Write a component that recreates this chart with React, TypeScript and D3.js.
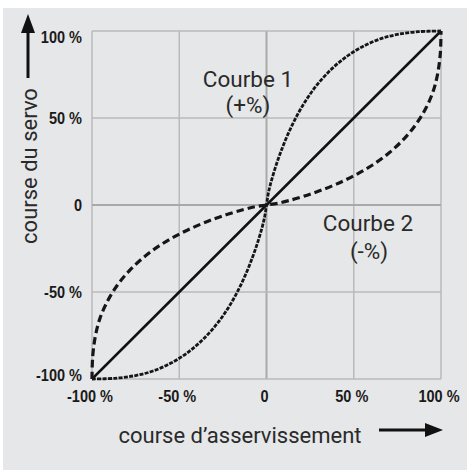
import React from "react";
import * as d3 from "d3";

const W = 467;
const H = 470;

const ticks = [-100, -50, 0, 50, 100];
const xTickLabels = ["-100 %", "-50 %", "0", "50 %", "100 %"];
const yTickLabels = ["-100 %", "-50 %", "0", "50 %", "100 %"];

const linearX = [-100, 100];
const linearY = [-100, 100];

// Courbe 1 (+%)
const curve1X = [-100, -87, -75, -65, -55, -46, -38, -30, -23, -17, -12, -8, -5, -2.5, -1, 0, 1, 2.5, 5, 8, 12, 17, 23, 30, 38, 46, 55, 65, 75, 87, 100];
const curve1Y = [-100, -99.6, -98, -95.4, -91, -85.4, -78.8, -70.3, -60.8, -50.5, -40, -30, -21.3, -12.8, -6.5, 0, 6.5, 12.8, 21.3, 30, 40, 50.5, 60.8, 70.3, 78.8, 85.4, 91, 95.4, 98, 99.6, 100];

// Courbe 2 (-%)
const curve2X = [-100, -99.6, -98, -95.4, -91, -85.4, -78.8, -70.3, -60.8, -50.5, -40, -30, -21.3, -12.8, -6.5, 0, 6.5, 12.8, 21.3, 30, 40, 50.5, 60.8, 70.3, 78.8, 85.4, 91, 95.4, 98, 99.6, 100];
const curve2Y = [-100, -87, -75, -65, -55, -46, -38, -30, -23, -17, -12, -8, -5, -2.5, -1, 0, 1, 2.5, 5, 8, 12, 17, 23, 30, 38, 46, 55, 65, 75, 87, 100];

const curve1Label = ["Courbe 1", "(+%)"];
const curve2Label = ["Courbe 2", "(-%)"];
const xTitle = "course d\u2019asservissement";
const yTitle = "course du servo";

export default function App() {
  const x = d3.scaleLinear().domain([-100, 100]).range([92, 441]);
  const y = d3.scaleLinear().domain([-100, 100]).range([379, 31]);

  const line = d3
    .line<[number, number]>()
    .x((d) => x(d[0]))
    .y((d) => y(d[1]))
    .curve(d3.curveCatmullRom.alpha(0.5));

  const straight = d3
    .line<[number, number]>()
    .x((d) => x(d[0]))
    .y((d) => y(d[1]));

  const c1 = curve1X.map((v, i) => [v, curve1Y[i]] as [number, number]);
  const c2 = curve2X.map((v, i) => [v, curve2Y[i]] as [number, number]);
  const lin = linearX.map((v, i) => [v, linearY[i]] as [number, number]);

  const tickFont = "'Liberation Sans', Arial, sans-serif";
  const textFont = "Roboto, 'Noto Sans', sans-serif";
  const sx = 0.88;

  return (
    <svg
      width={W}
      height={H}
      style={{ position: "absolute", left: 0, top: 0, display: "block" }}
    >
      <rect x={0} y={0} width={W} height={H} fill="#ffffff" />
      <rect x={3} y={8} width={W - 3} height={H - 8} fill="#e6e7e8" />

      {/* grid */}
      {ticks.map((t) => (
        <line
          key={"gx" + t}
          x1={x(t)}
          x2={x(t)}
          y1={y(-100)}
          y2={y(100)}
          stroke={t === 0 ? "#a9a9a9" : "#bababa"}
          strokeWidth={t === 0 ? 2 : 1.5}
        />
      ))}
      {ticks.map((t) => (
        <line
          key={"gy" + t}
          x1={x(-100)}
          x2={x(100)}
          y1={y(t)}
          y2={y(t)}
          stroke={t === 0 ? "#a9a9a9" : "#bababa"}
          strokeWidth={t === 0 ? 2 : 1.5}
        />
      ))}

      {/* curves */}
      <path d={straight(lin) || ""} fill="none" stroke="#111" strokeWidth={2.5} />
      <path
        d={line(c1) || ""}
        fill="none"
        stroke="#161616"
        strokeWidth={2.8}
        strokeDasharray="4 1.3"
      />
      <path
        d={line(c2) || ""}
        fill="none"
        stroke="#161616"
        strokeWidth={3.2}
        strokeDasharray="7.5 4"
      />

      {/* y tick labels */}
      {ticks.map((t, i) => (
        <text
          key={"yl" + t}
          transform={`translate(82,${y(t) + (t === 100 ? 12 : t === -100 ? 2 : 6)}) scale(${sx},1)`}
          textAnchor="end"
          fontFamily={tickFont}
          fontWeight="bold"
          fontSize={16.5}
          fill="#1a1a1a"
        >
          {yTickLabels[i]}
        </text>
      ))}

      {/* x tick labels */}
      {ticks.map((t, i) => (
        <text
          key={"xl" + t}
          transform={`translate(${x(t) - 2},402) scale(${sx},1)`}
          textAnchor="middle"
          fontFamily={tickFont}
          fontWeight="bold"
          fontSize={16.5}
          fill="#1a1a1a"
        >
          {xTickLabels[i]}
        </text>
      ))}

      {/* curve labels */}
      <text x={248} y={87} textAnchor="middle" fontFamily={textFont} fontSize={22.5} fill="#2a2a2a">
        {curve1Label[0]}
      </text>
      <text x={248} y={113} textAnchor="middle" fontFamily={textFont} fontSize={22.5} fill="#2a2a2a">
        {curve1Label[1]}
      </text>
      <text x={368} y={231} textAnchor="middle" fontFamily={textFont} fontSize={22.5} fill="#2a2a2a">
        {curve2Label[0]}
      </text>
      <text x={369} y={259} textAnchor="middle" fontFamily={textFont} fontSize={22.5} fill="#2a2a2a">
        {curve2Label[1]}
      </text>

      {/* x title + arrow */}
      <text x={240} y={443} textAnchor="middle" fontFamily={textFont} fontSize={22} fill="#2a2a2a">
        {xTitle}
      </text>
      <line x1={379} x2={428} y1={430} y2={430} stroke="#111" strokeWidth={3} />
      <polygon points="443,430 425,423 425,437" fill="#111" />

      {/* y title + arrow */}
      <text
        transform="translate(37,166) rotate(-90)"
        textAnchor="middle"
        fontFamily={textFont}
        fontSize={22}
        fill="#2a2a2a"
      >
        {yTitle}
      </text>
      <line x1={28} x2={28} y1={78} y2={30} stroke="#111" strokeWidth={3} />
      <polygon points="28,14 21,33 35,33" fill="#111" />
    </svg>
  );
}
